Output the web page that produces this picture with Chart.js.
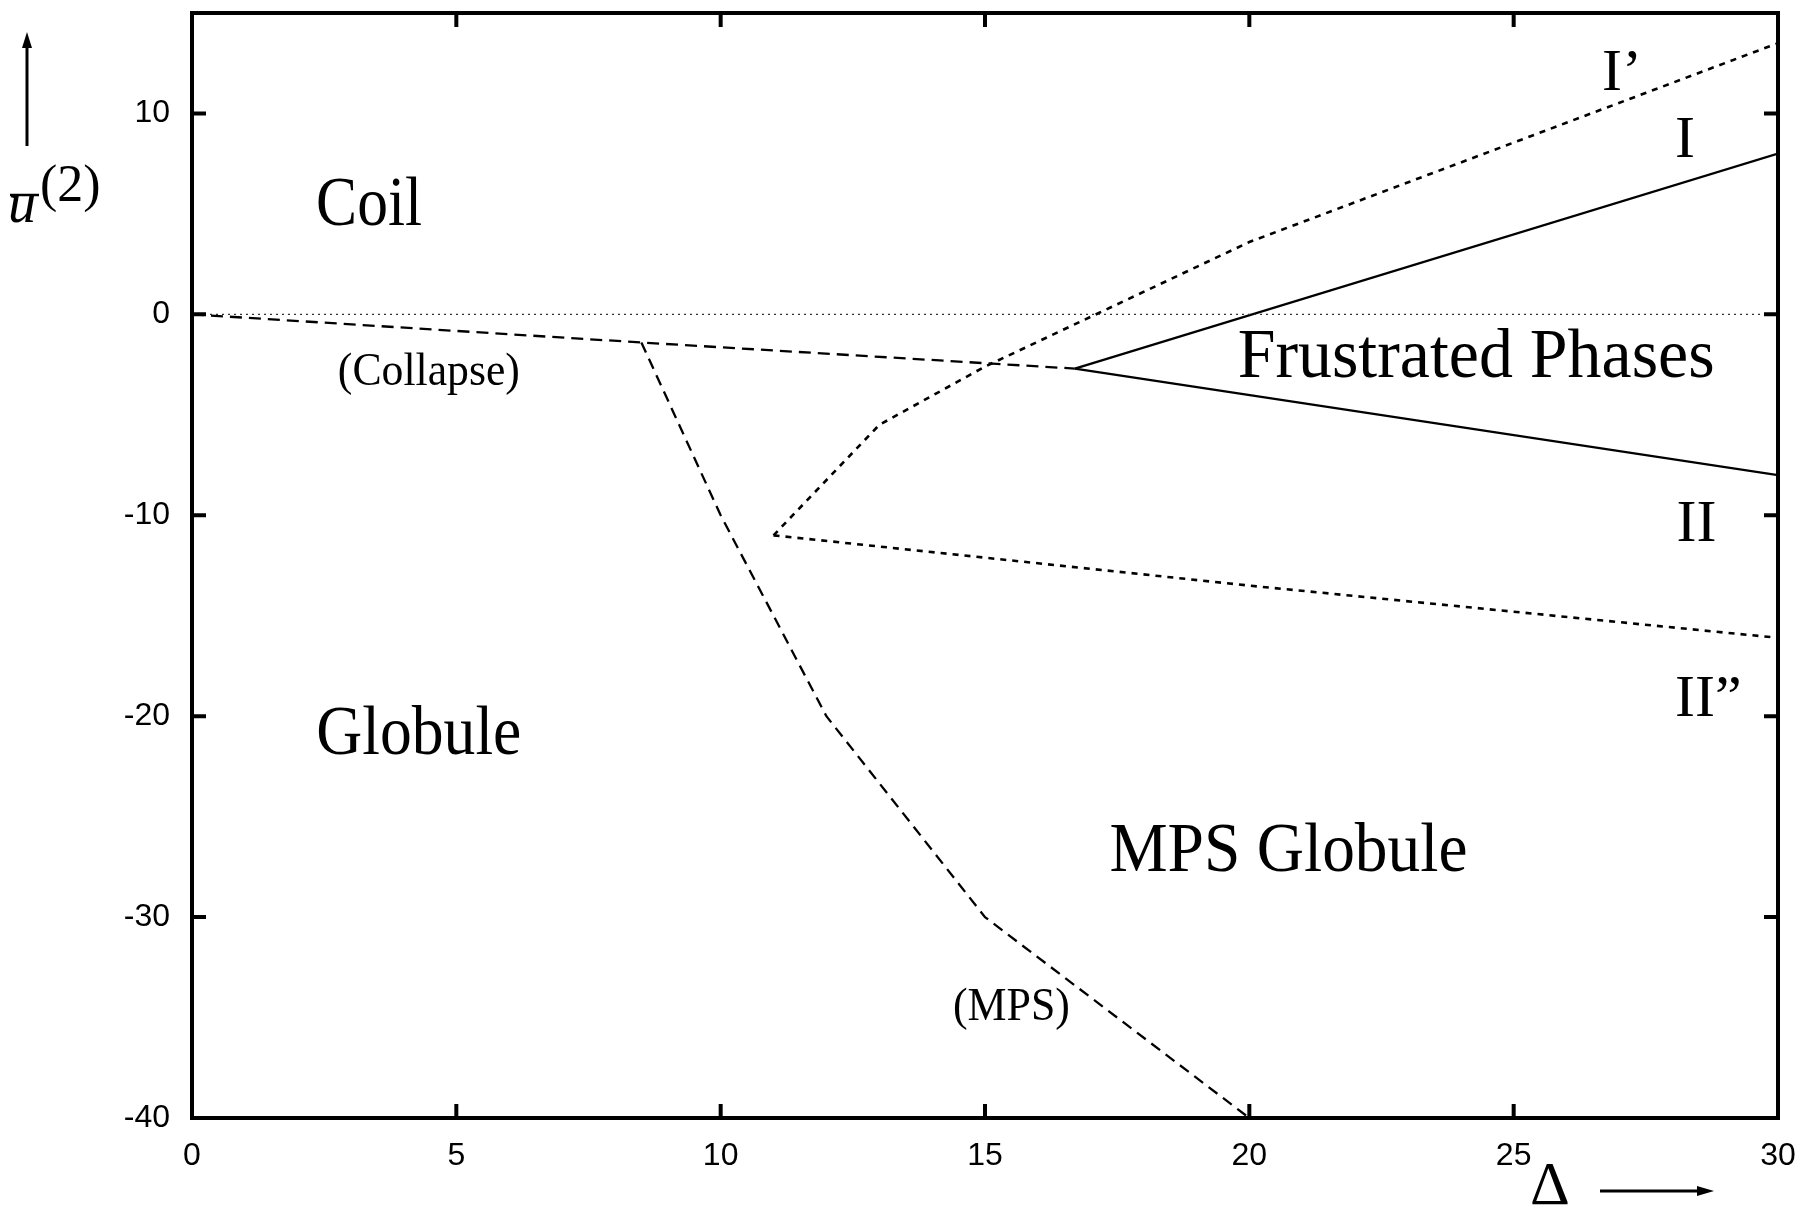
<!DOCTYPE html>
<html>
<head>
<meta charset="utf-8">
<script src="https://cdn.jsdelivr.net/npm/chart.js@4.4.1/dist/chart.umd.min.js"></script>
<style>
  html, body { margin: 0; padding: 0; background: #fff; }
  #wrap { width: 1804px; height: 1208px; }
</style>
</head>
<body>
<div id="wrap"><canvas id="phaseChart" width="1804" height="1208"></canvas></div>
<script>
// tick values
const xTicks = [0, 5, 10, 15, 20, 25, 30];
const yTicks = [-40, -30, -20, -10, 0, 10];

// phase boundaries, Delta vs u2
const zeroX = [0, 30];
const zeroY = [0, 0];
const collapseX = [0, 8.5, 16.7];
const collapseY = [0, -1.4, -2.7];
const mpsX = [8.5, 10, 12, 15, 20];
const mpsY = [-1.4, -10, -20, -30, -40];
const lineIX = [16.7, 30];
const lineIY = [-2.7, 8];
const lineIIX = [16.7, 30];
const lineIIY = [-2.7, -8];
const linePrimeX = [11, 13, 15, 20, 30];
const linePrimeY = [-11, -5.5, -2.6, 3.6, 13.5];
const lineDPrimeX = [11, 20, 30];
const lineDPrimeY = [-11, -13.5, -16.1];

// region names, placed in data coordinates (x = centre, y = baseline)
const regionLabels = [
  { text: 'Coil', x: 3.35, y: 4.43, size: 70, width: 106 },
  { text: 'Globule', x: 4.29, y: -21.9, size: 70, width: 205 },
  { text: 'MPS Globule', x: 20.74, y: -27.7, size: 70, width: 358 },
  { text: 'Frustrated Phases', x: 24.29, y: -3.13, size: 70, width: 477 },
  { text: '(Collapse)', x: 4.48, y: -3.5, size: 46, width: 182 },
  { text: '(MPS)', x: 15.5, y: -35.1, size: 46, width: 117 },
  { text: 'I\u2019', x: 27.05, y: 11.15, size: 60, width: 0 },
  { text: 'I', x: 28.24, y: 7.85, size: 60, width: 0 },
  { text: 'II', x: 28.46, y: -11.3, size: 60, width: 0 },
  { text: 'II\u201D', x: 28.68, y: -20.0, size: 60, width: 0 }
];

const pts = (xs, ys) => xs.map((x, i) => ({ x: x, y: ys[i] }));

function line(xs, ys, width, dash, color) {
  return {
    data: pts(xs, ys),
    showLine: true,
    borderColor: color || '#000',
    borderWidth: width,
    borderDash: dash,
    pointRadius: 0,
    fill: false,
    tension: 0
  };
}

const serif = '"Liberation Serif", "DejaVu Serif", serif';
const tickFont = { family: '"Liberation Sans", Arial, sans-serif', size: 32 };

// keep the plot frame fixed: no extra room reserved for edge labels
function fixScale(s, key, size) {
  s[key] = size;
  s.paddingTop = 0;
  s.paddingBottom = 0;
  s.paddingLeft = 0;
  s.paddingRight = 0;
}

// frame, inward ticks, region names and axis titles
const decorations = {
  id: 'decorations',
  afterDraw(chart) {
    const ctx = chart.ctx;
    const a = chart.chartArea;
    const xs = chart.scales.x, ys = chart.scales.y;
    const tl = 14;
    ctx.save();
    ctx.strokeStyle = '#000';
    ctx.lineWidth = 4;
    ctx.lineCap = 'butt';
    ctx.beginPath();
    xTicks.forEach(v => {
      const px = xs.getPixelForValue(v);
      ctx.moveTo(px, a.bottom); ctx.lineTo(px, a.bottom - tl);
      ctx.moveTo(px, a.top); ctx.lineTo(px, a.top + tl);
    });
    yTicks.forEach(v => {
      const py = ys.getPixelForValue(v);
      ctx.moveTo(a.left, py); ctx.lineTo(a.left + tl, py);
      ctx.moveTo(a.right, py); ctx.lineTo(a.right - tl, py);
    });
    ctx.stroke();
    ctx.strokeRect(a.left, a.top, a.right - a.left, a.bottom - a.top);

    ctx.fillStyle = '#000';
    ctx.textAlign = 'center';
    ctx.textBaseline = 'alphabetic';
    regionLabels.forEach(l => {
      ctx.font = l.size + 'px ' + serif;
      const px = xs.getPixelForValue(l.x);
      const py = ys.getPixelForValue(l.y);
      const w = ctx.measureText(l.text).width;
      const sx = l.width ? l.width / w : 1;
      ctx.save();
      ctx.translate(px, py);
      ctx.scale(sx, 1);
      ctx.fillText(l.text, 0, 0);
      ctx.restore();
    });

    // y title: u-bar with superscript (2), arrow above
    ctx.textAlign = 'left';
    ctx.font = 'italic 56px ' + serif;
    ctx.fillText('u', 8, 222);
    ctx.lineWidth = 2.5;
    ctx.beginPath();
    ctx.moveTo(10, 195); ctx.lineTo(39, 195);
    ctx.stroke();
    ctx.font = '52px ' + serif;
    ctx.fillText('(2)', 40, 201);

    ctx.lineWidth = 3;
    ctx.beginPath();
    ctx.moveTo(27, 146); ctx.lineTo(27, 44);
    ctx.stroke();
    ctx.beginPath();
    ctx.moveTo(27, 32); ctx.lineTo(22, 48); ctx.lineTo(32, 48);
    ctx.closePath();
    ctx.fill();

    // x title: Delta with arrow to the right
    ctx.textAlign = 'center';
    ctx.font = '62px ' + serif;
    ctx.fillText('\u0394', 1550, 1204);
    ctx.lineWidth = 3;
    ctx.beginPath();
    ctx.moveTo(1600, 1191); ctx.lineTo(1700, 1191);
    ctx.stroke();
    ctx.beginPath();
    ctx.moveTo(1714, 1191); ctx.lineTo(1697, 1186); ctx.lineTo(1697, 1196);
    ctx.closePath();
    ctx.fill();
    ctx.restore();
  }
};

new Chart(document.getElementById('phaseChart'), {
  type: 'scatter',
  data: {
    datasets: [
      line(zeroX, zeroY, 1.2, [2, 4], '#333'),
      line(collapseX, collapseY, 2.3, [12, 7]),
      line(mpsX, mpsY, 2.3, [11, 7]),
      line(lineIX, lineIY, 2.3, []),
      line(lineIIX, lineIIY, 2.3, []),
      line(linePrimeX, linePrimeY, 2.6, [6, 6]),
      line(lineDPrimeX, lineDPrimeY, 2.6, [6, 6])
    ]
  },
  options: {
    responsive: false,
    animation: false,
    events: [],
    layout: { padding: { left: 0, top: 13, right: 26, bottom: 0 } },
    plugins: { legend: { display: false }, tooltip: { enabled: false } },
    scales: {
      x: {
        type: 'linear',
        min: 0,
        max: 30,
        afterBuildTicks: s => { s.ticks = xTicks.map(v => ({ value: v })); },
        afterFit: s => fixScale(s, 'height', 90),
        grid: { display: false, drawTicks: false },
        border: { display: false },
        ticks: { font: tickFont, color: '#000', padding: 19, maxRotation: 0 }
      },
      y: {
        type: 'linear',
        min: -40,
        max: 15,
        afterBuildTicks: s => { s.ticks = yTicks.map(v => ({ value: v })); },
        afterFit: s => fixScale(s, 'width', 192),
        grid: { display: false, drawTicks: false },
        border: { display: false },
        ticks: { font: tickFont, color: '#000', padding: 22 }
      }
    }
  },
  plugins: [decorations]
});
</script>
</body>
</html>
